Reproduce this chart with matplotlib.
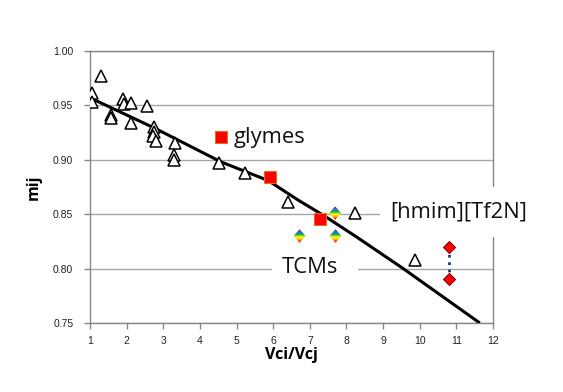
import numpy as np
import matplotlib
matplotlib.use('Agg')
import matplotlib.pyplot as plt
from matplotlib.patches import Polygon, Rectangle
from matplotlib.transforms import ScaledTranslation
from matplotlib.colors import LinearSegmentedColormap

# ---- data ----
tri_x = [1.05, 1.05, 1.30, 1.56, 1.57, 1.91, 1.93, 2.12, 2.56, 2.11, 2.74, 2.74,
         2.72, 2.80, 3.31, 3.30, 3.30, 4.52, 5.22, 6.40, 8.23, 9.87]
tri_y = [0.961, 0.953, 0.977, 0.941, 0.938, 0.956, 0.951, 0.952, 0.949, 0.934, 0.930, 0.926,
         0.922, 0.917, 0.915, 0.904, 0.900, 0.897, 0.888, 0.861, 0.851, 0.808]

glyme_x = [4.58, 5.91, 7.28]
glyme_y = [0.921, 0.884, 0.846]

tcm_x = [6.72, 7.69, 7.70]
tcm_y = [0.830, 0.851, 0.830]

il_x = [10.81, 10.81]
il_y = [0.820, 0.790]

fit_x = [1.0, 2.77, 4.58, 5.86, 6.68, 7.37, 8.28, 9.55, 11.64]
fit_y = [0.957, 0.929, 0.898, 0.881, 0.863, 0.849, 0.829, 0.800, 0.750]

x_ticks = list(range(1, 13))
y_ticks = [0.75, 0.80, 0.85, 0.90, 0.95, 1.00]

labels = {'glymes': (4.93, 0.915), 'TCMs': (6.24, 0.796), '[hmim][Tf2N]': (9.19, 0.8474)}

# ---- figure ----
W, H = 563, 392
fig = plt.figure(figsize=(W / 100, H / 100), dpi=100)
ax = fig.add_axes([90 / W, 1 - 323 / H, 403 / W, 272 / H])
ax.set_xlim(1, 12)
ax.set_ylim(0.75, 1.00)
ax.set_xticks(x_ticks)
ax.set_yticks(y_ticks)
ax.set_yticklabels([f'{v:.2f}' for v in y_ticks])
ax.grid(axis='y', color='#a6a6a6', lw=1.0, zorder=0)
ax.set_axisbelow(True)
for s in ax.spines.values():
    s.set_color('#868686')
    s.set_linewidth(1.0)
ax.tick_params(direction='out', length=4, width=1, color='#868686',
               labelsize=7.5, labelcolor='#222222')
ax.tick_params(axis='y', pad=8)
ax.tick_params(axis='x', pad=5)
for t in ax.get_xticklabels() + ax.get_yticklabels():
    t.set_family('Liberation Sans')

ax.set_xlabel('Vci/Vcj', fontsize=11.5, fontweight='bold', family='Open Sans', va='baseline')
ax.xaxis.set_label_coords(0.5, -0.132)
ax.set_ylabel('mij', fontsize=11.5, fontweight='bold', family='Open Sans')
ax.yaxis.set_label_coords(-0.119, 0.5)

# white label boxes (cover gridlines / frame)
def pxbox(x0, y0, x1, y1):
    r = Rectangle((x0 / W, 1 - y1 / H), (x1 - x0) / W, (y1 - y0) / H,
                  transform=fig.transFigure, facecolor='white', edgecolor='none',
                  zorder=3, clip_on=False)
    ax.add_artist(r)

pxbox(272, 254, 358, 283)
pxbox(380, 187, 548, 237)

# fit line
ax.plot(fit_x, fit_y, color='black', lw=2.2, zorder=4, solid_capstyle='butt')

# triangles
ax.plot(tri_x, tri_y, ls='none', marker='^', ms=8, mfc='white', mec='black', mew=1.1, zorder=5)

# glymes squares
ax.plot(glyme_x, glyme_y, ls='none', marker='s', ms=8.4, mfc='#ff0000', mec='#e07020', mew=0.8, zorder=5)

# ionic liquid diamonds + dotted connector
ax.plot(il_x, il_y, ls=':', color='#1f3b73', lw=2, zorder=4)
ax.plot(il_x, il_y, ls='none', marker='D', ms=6.6, mfc='#ff0000', mec='#8b0000', mew=0.8, zorder=5)

# rainbow diamonds (TCMs)
cmap = LinearSegmentedColormap.from_list('rb', ['#7030a0', '#2060d0', '#00b050', '#ffff00', '#ffc000', '#ff0000'])
a, b = 0.056, 0.064  # inches half-width, half-height
nst = 14
edges = np.linspace(b, -b, nst + 1)

def halfw(yv):
    return a * (1 - abs(yv) / b)

for x, y in zip(tcm_x, tcm_y):
    tr = fig.dpi_scale_trans + ScaledTranslation(x, y, ax.transData)
    for i in range(nst):
        yt, yb = edges[i], edges[i + 1]
        ys = [yt] + ([0.0] if yt > 0 > yb else []) + [yb]
        right = [(halfw(v), v) for v in ys]
        left = [(-halfw(v), v) for v in ys[::-1]]
        col = cmap(i / (nst - 1))
        p = Polygon(right + left, closed=True, transform=tr, facecolor=col,
                    edgecolor=col, lw=0.3, zorder=5)
        ax.add_patch(p)

# text labels
for txt, (tx, ty) in labels.items():
    ax.text(tx, ty, txt, fontsize=15.8, family='Open Sans', color='#111111',
            ha='left', va='baseline', zorder=6, clip_on=False)

fig.savefig('out.png', dpi=100)
